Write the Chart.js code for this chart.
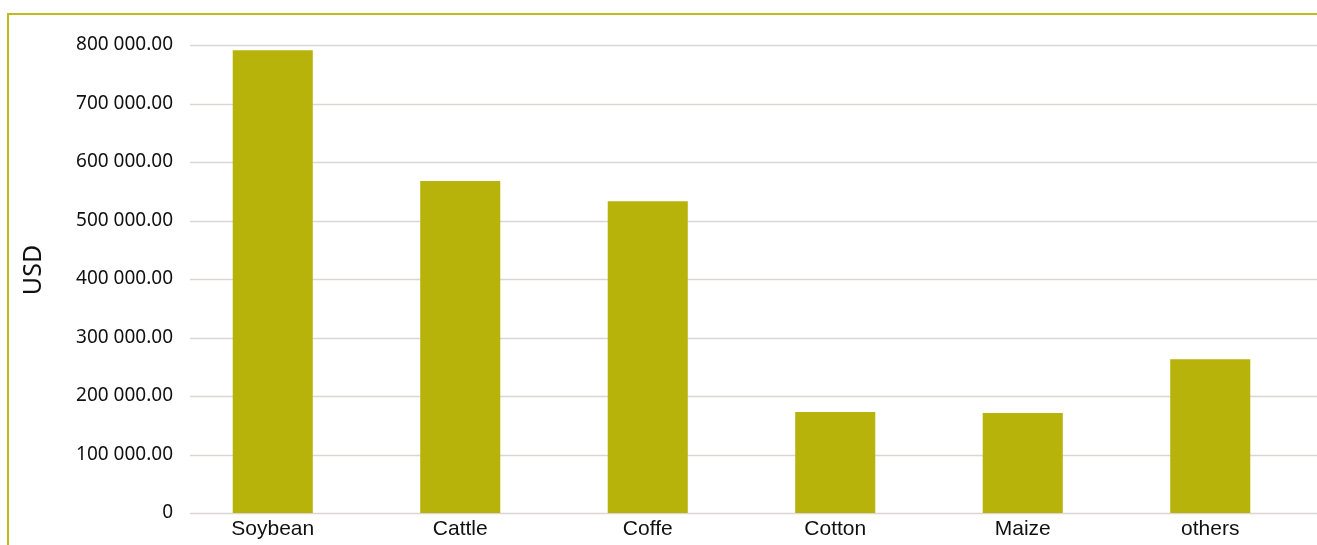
<!DOCTYPE html>
<html lang="en">
<head>
    <meta charset="UTF-8">
    <title>Value by product (USD)</title>
    <script src="https://cdn.jsdelivr.net/npm/chart.js"></script>
    <style>
        body {
            margin: 0;
            padding: 0;
            background: #fff;
            overflow: hidden;
        }

        #wrap {
            position: relative;
            width: 1317px;
            height: 545px;
        }

        /* olive frame, only left and top edges are visible */
        #frame {
            position: absolute;
            left: 7px;
            top: 13px;
            width: 1400px;
            height: 600px;
            border-left: 2px solid #c0bc1c;
            border-top: 2px solid #c0bc1c;
            pointer-events: none;
        }

        #chart {
            position: absolute;
            left: 0;
            top: 0;
        }
    </style>
</head>
<body>
    <div id="wrap">
        <canvas id="chart" width="1317" height="545"></canvas>
        <div id="frame"></div>
    </div>

    <script>
        var products = ['Soybean', 'Cattle', 'Coffe', 'Cotton', 'Maize', 'others'];
        var usdValues = [791000, 567500, 533000, 172500, 171000, 263000];
        var yTicks = [0, 100000, 200000, 300000, 400000, 500000, 600000, 700000, 800000];

        function fmtUsd(v) {
            if (v === 0) return '0';
            var parts = v.toFixed(2).split('.');
            return parts[0].replace(/\B(?=(\d{3})+(?!\d))/g, ' ') + '.' + parts[1];
        }

        // horizontal grid lines run past the plot area to the right edge
        var gridPlugin = {
            id: 'wideGrid',
            beforeDatasetsDraw: function(chart) {
                var ctx = chart.ctx;
                var y = chart.scales.y;
                ctx.save();
                ctx.strokeStyle = '#ddd5d2';
                ctx.lineWidth = 1.5;
                yTicks.forEach(function(t) {
                    var py = Math.round(y.getPixelForValue(t)) + 0.5;
                    ctx.beginPath();
                    ctx.moveTo(190, py);
                    ctx.lineTo(chart.width, py);
                    ctx.stroke();
                });
                ctx.restore();
            }
        };

        // rotated axis title, sits a little above the plot's middle
        var axisTitlePlugin = {
            id: 'usdTitle',
            afterDraw: function(chart) {
                var ctx = chart.ctx;
                ctx.save();
                ctx.translate(34, 270);
                ctx.rotate(-Math.PI / 2);
                ctx.fillStyle = '#111';
                ctx.font = '25px "Noto Sans"';
                ctx.textAlign = 'center';
                ctx.textBaseline = 'middle';
                ctx.fillText('USD', 0, 0);
                ctx.restore();
            }
        };

        var ctx = document.getElementById('chart').getContext('2d');
        var chart = new Chart(ctx, {
            type: 'bar',
            data: {
                labels: products,
                datasets: [{
                    label: 'USD',
                    data: usdValues,
                    backgroundColor: '#b8b30a',
                    borderWidth: 0,
                    barPercentage: 1,
                    categoryPercentage: 0.427
                }]
            },
            options: {
                responsive: false,
                animation: false,
                layout: {
                    padding: { left: 0, right: 13, top: 45, bottom: 0 }
                },
                plugins: {
                    legend: { display: false },
                    tooltip: { enabled: false }
                },
                scales: {
                    x: {
                        grid: { display: false, drawTicks: false },
                        border: { display: false },
                        ticks: {
                            color: '#111',
                            padding: 4,
                            font: { family: 'Liberation Sans', size: 21 }
                        },
                        afterFit: function(s) { s.height = 32; }
                    },
                    y: {
                        min: 0,
                        max: 800000,
                        afterBuildTicks: function(s) {
                            s.ticks = yTicks.map(function(v) { return { value: v }; });
                        },
                        grid: { display: false, drawTicks: false },
                        border: { display: false },
                        ticks: {
                            color: '#111',
                            padding: 6,
                            font: { family: 'Noto Sans', size: 19 },
                            callback: function(v) { return fmtUsd(v); }
                        },
                        afterFit: function(s) { s.width = 179; }
                    }
                }
            },
            plugins: [gridPlugin, axisTitlePlugin]
        });
    </script>
</body>
</html>
